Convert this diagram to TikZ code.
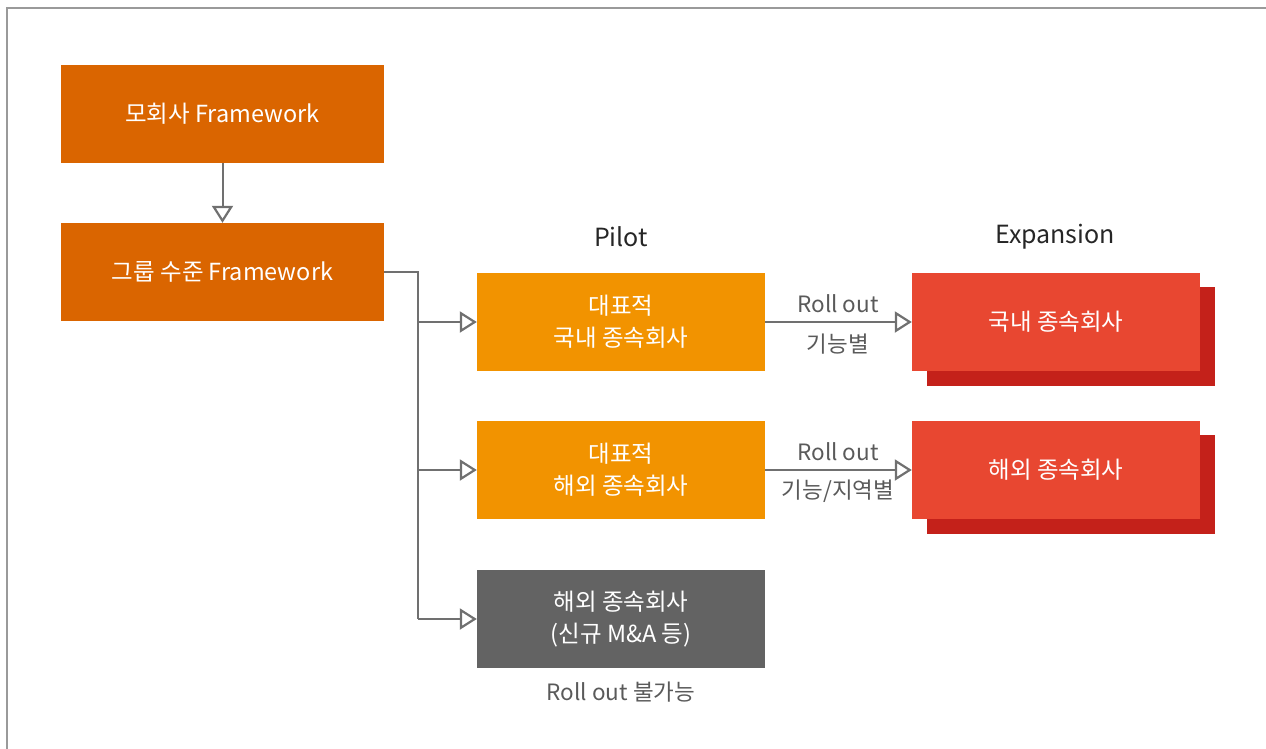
\documentclass[tikz,border=0pt]{standalone}
\usepackage{fontspec}
\setmainfont{Noto Sans CJK KR}
\usetikzlibrary{arrows.meta}
\definecolor{darkor}{HTML}{DA6500}
\definecolor{pilotor}{HTML}{F29300}
\definecolor{expred}{HTML}{E84731}
\definecolor{shadred}{HTML}{C4211A}
\definecolor{boxgray}{HTML}{636363}
\definecolor{linegray}{HTML}{707070}
\definecolor{labgray}{HTML}{5A5A5A}
\definecolor{framegray}{HTML}{9A9A9A}
\tikzset{
  box/.style={minimum width=323pt, minimum height=98pt, inner sep=0pt, text=white, font=\fontsize{23.5}{32}\selectfont, align=center},
  pbox/.style={box, minimum width=288pt, fill=pilotor},
  conn/.style={draw=linegray, line width=2pt, -{Triangle[open, length=17pt, width=21pt, line width=2.2pt]}},
  lab/.style={text=labgray, font=\fontsize{22.5}{26}\selectfont, inner sep=0pt},
  head/.style={text=black!85, font=\fontsize{25}{29}\selectfont, inner sep=0pt}
}
\begin{document}
\begin{tikzpicture}[x=1pt,y=-1pt]
\useasboundingbox (0,0) rectangle (1266,749);
\draw[framegray, line width=2pt] (7,749) -- (7,8) -- (1266,8);
% left column
\node[box, fill=darkor] (mo) at (222.5,114) {모회사 Framework};
\node[box, fill=darkor] (gr) at (222.5,272) {그룹 수준 Framework};
\draw[conn] (mo) -- (gr);
% pilot
\node[pbox] (p1) at (621,322) {대표적\\국내 종속회사};
\node[pbox] (p2) at (621,470) {대표적\\해외 종속회사};
\node[box, minimum width=288pt, fill=boxgray] (p3) at (621,619) {해외 종속회사\\(신규 M\&A 등)};
% expansion
\fill[shadred] (927,287) rectangle (1215,386);
\node[box, minimum width=288pt, fill=expred] (e1) at (1056,322) {국내 종속회사};
\fill[shadred] (927,435) rectangle (1215,534);
\node[box, minimum width=288pt, fill=expred] (e2) at (1056,470) {해외 종속회사};
% headings
\node[head] (hp) at (621,237) {Pilot};
\node[head] (he) at (1055,237) {Expansion};
% connectors
\coordinate (bus) at (418,272);
\draw[draw=linegray, line width=2pt] (gr.east) -- (bus) -- (418,619);
\draw[conn] (418,322) -- (p1.west);
\draw[conn] (418,470) -- (p2.west);
\draw[conn] (418,619) -- (p3.west);
\draw[conn] (p1.east) -- (e1.west);
\draw[conn] (p2.east) -- (e2.west);
% labels
\node[lab] (r1) at (838,304) {Roll out};
\node[lab] (f1) at (838,344) {기능별};
\node[lab] (r2) at (838,452) {Roll out};
\node[lab] (f2) at (838,491) {기능/지역별};
\node[lab] (r3) at (621,692) {Roll out 불가능};
\end{tikzpicture}
\end{document}
